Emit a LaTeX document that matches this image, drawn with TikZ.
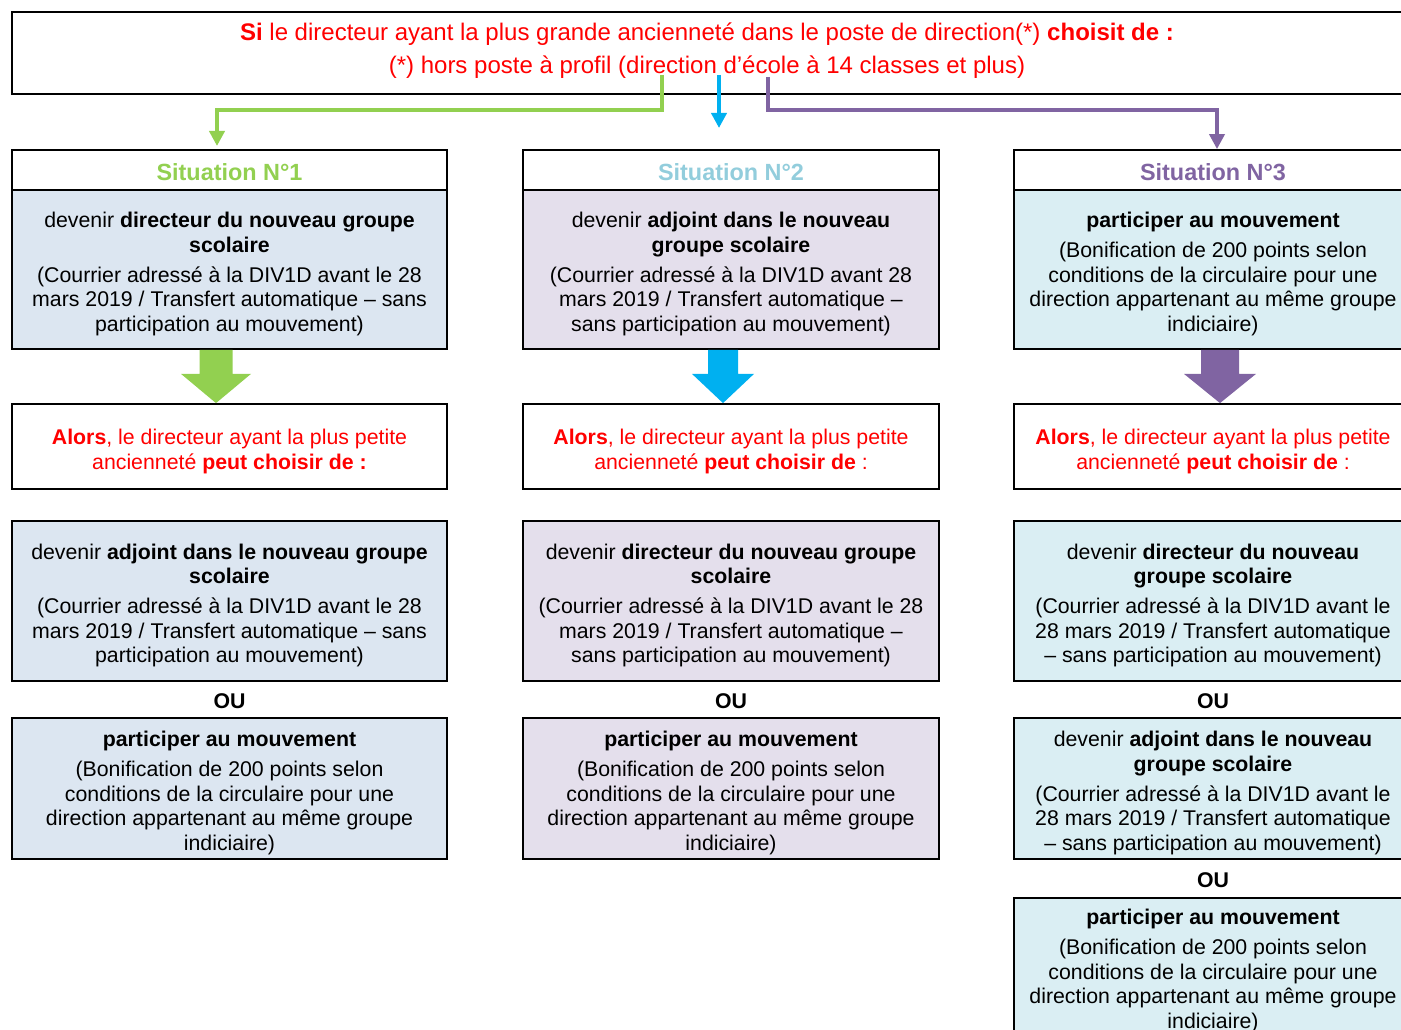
\documentclass[tikz,border=0pt]{standalone}
\usepackage{fontspec}
\setmainfont{Liberation Sans}
\usetikzlibrary{arrows.meta,calc}
\definecolor{cgreen}{HTML}{92D050}
\definecolor{cblue}{HTML}{00B0F0}
\definecolor{cpurple}{HTML}{8064A2}
\definecolor{clblue}{HTML}{92CDDC}
\definecolor{fillA}{HTML}{DCE6F1}
\definecolor{fillB}{HTML}{E4DFEC}
\definecolor{fillC}{HTML}{DAEEF3}
\definecolor{cred}{HTML}{FF0000}
\newcommand{\bodyfs}{\fontsize{21.3pt}{24.5pt}\selectfont}
\newcommand{\topfs}{\fontsize{24pt}{27.6pt}\selectfont}
\newcommand{\headfs}{\fontsize{23.4pt}{27pt}\selectfont\bfseries}
\newcommand{\gapline}{\\[5.5pt]}
\newcommand{\tstrut}{\rule{0pt}{24pt}}
\newcommand{\astrut}{\rule{0pt}{25.5pt}}
\newcommand{\hstrut}{\rule{0pt}{20.8pt}}
% color, from, to, xoffset, shaft half width, head half width
\newcommand{\bigarrow}[6]{%
  \fill[#1] ($(#2.south)+(#4-#5,0)$) -- ($(#2.south)+(#4+#5,0)$)
    -- ($(#2.south)+(#4+#5,24)$) -- ($(#2.south)+(#4+#6,24)$)
    -- ($(#3.north)+(#4,0)$)
    -- ($(#2.south)+(#4-#6,24)$) -- ($(#2.south)+(#4-#5,24)$) -- cycle;}
\begin{document}
\begin{tikzpicture}[x=1pt,y=-1pt,
  box/.style={draw=black, line width=1.8pt, inner sep=0pt, align=center, font=\bodyfs},
  head/.style={box, fill=white, minimum height=40pt, font=\headfs},
  body/.style={box, minimum height=159pt},
  alors/.style={box, fill=white, minimum height=85pt, text=cred},
  opta/.style={box, minimum height=160pt},
  optb/.style={box, minimum height=141pt},
  ou/.style={inner sep=0pt, font=\bodyfs\bfseries},
  conn/.style={line width=4.5pt, -{Triangle[length=15pt,width=15pt]}},
  wA/.style={minimum width=435pt},
  wB/.style={minimum width=416pt},
  wC/.style={minimum width=398pt}]
\useasboundingbox (0,0) rectangle (1401,1030);
\clip (0,0) rectangle (1401,1030);

% top box
\node[draw=black, line width=1.8pt, inner sep=0pt, minimum width=1391pt, minimum height=82pt] (top) at (707.5,53) {};
\node[inner sep=0pt, align=center, font=\topfs, text=cred] (toptxt) at (707,51)
  {\textbf{Si} le directeur ayant la plus grande ancienneté dans le poste de direction(*) \textbf{choisit de :}\\[5.4pt]
   (*) hors poste à profil (direction d’école à 14 classes et plus)};

% ---------- column 1 ----------
\node[head, wA, text=cgreen] (s1) at (229.5,170) {\hstrut Situation N°1};
\node[body, wA, fill=fillA] (b1) at (229.5,269.5)
  {\tstrut devenir \textbf{directeur du nouveau groupe}\\ \textbf{scolaire}\gapline
   (Courrier adressé à la DIV1D avant le 28\\ mars 2019 / Transfert automatique – sans\\ participation au mouvement)};
\node[alors, wA] (a1) at (229.5,446.5)
  {\astrut\textbf{Alors}, le directeur ayant la plus petite\\ ancienneté \textbf{peut choisir de :}};
\node[opta, wA, fill=fillA] (o11) at (229.5,601)
  {\tstrut devenir \textbf{adjoint dans le nouveau groupe}\\ \textbf{scolaire}\gapline
   (Courrier adressé à la DIV1D avant le 28\\ mars 2019 / Transfert automatique – sans\\ participation au mouvement)};
\node[ou] (ou1) at (229.5,701) {OU};
\node[optb, wA, fill=fillA] (o12) at (229.5,788.5)
  {\tstrut\textbf{participer au mouvement}\gapline
   (Bonification de 200 points selon\\ conditions de la circulaire pour une\\ direction appartenant au même groupe\\ indiciaire)};

% ---------- column 2 ----------
\node[head, wB, text=clblue] (s2) at (731,170) {\hstrut Situation N°2};
\node[body, wB, fill=fillB] (b2) at (731,269.5)
  {\tstrut devenir \textbf{adjoint dans le nouveau}\\ \textbf{groupe scolaire}\gapline
   (Courrier adressé à la DIV1D avant 28\\ mars 2019 / Transfert automatique –\\ sans participation au mouvement)};
\node[alors, wB] (a2) at (731,446.5)
  {\astrut\textbf{Alors}, le directeur ayant la plus petite\\ ancienneté \textbf{peut choisir de} :};
\node[opta, wB, fill=fillB] (o21) at (731,601)
  {\tstrut devenir \textbf{directeur du nouveau groupe}\\ \textbf{scolaire}\gapline
   (Courrier adressé à la DIV1D avant le 28\\ mars 2019 / Transfert automatique –\\ sans participation au mouvement)};
\node[ou] (ou2) at (731,701) {OU};
\node[optb, wB, fill=fillB] (o22) at (731,788.5)
  {\tstrut\textbf{participer au mouvement}\gapline
   (Bonification de 200 points selon\\ conditions de la circulaire pour une\\ direction appartenant au même groupe\\ indiciaire)};

% ---------- column 3 ----------
\node[head, wC, text=cpurple] (s3) at (1213,170) {\hstrut Situation N°3};
\node[body, wC, fill=fillC] (b3) at (1213,269.5)
  {\tstrut\textbf{participer au mouvement}\gapline
   (Bonification de 200 points selon\\ conditions de la circulaire pour une\\ direction appartenant au même groupe\\ indiciaire)};
\node[alors, wC] (a3) at (1213,446.5)
  {\astrut\textbf{Alors}, le directeur ayant la plus petite\\ ancienneté \textbf{peut choisir de} :};
\node[opta, wC, fill=fillC] (o31) at (1213,601)
  {\tstrut devenir \textbf{directeur du nouveau}\\ \textbf{groupe scolaire}\gapline
   (Courrier adressé à la DIV1D avant le\\ 28 mars 2019 / Transfert automatique\\ – sans participation au mouvement)};
\node[ou] (ou3) at (1213,701) {OU};
\node[optb, wC, fill=fillC] (o32) at (1213,788.5)
  {\tstrut devenir \textbf{adjoint dans le nouveau}\\ \textbf{groupe scolaire}\gapline
   (Courrier adressé à la DIV1D avant le\\ 28 mars 2019 / Transfert automatique\\ – sans participation au mouvement)};
\node[ou] (ou4) at (1213,880) {OU};
\node[box, minimum height=137pt, wC, fill=fillC] (o33) at (1213,966.5)
  {\tstrut\textbf{participer au mouvement}\gapline
   (Bonification de 200 points selon\\ conditions de la circulaire pour une\\ direction appartenant au même groupe\\ indiciaire)};

% ---------- big arrows ----------
\bigarrow{cgreen}{b1}{a1}{-13.5}{16.5}{35}
\bigarrow{cblue}{b2}{a2}{-8}{15}{31}
\bigarrow{cpurple}{b3}{a3}{7}{19}{36}

% ---------- thin connectors ----------
\coordinate (gs) at (662,75);
\coordinate (ge) at (217,146);
\coordinate (bs) at (719,75);
\coordinate (be) at (719,128);
\coordinate (ps) at (768,77);
\draw[conn, cgreen] (gs) -- (662,110) -- (217,110) -- (ge);
\draw[conn, cblue] (bs) -- (be);
\draw[conn, cpurple] (ps) -- (768,110) -- (1217,110) -- ([xshift=4pt]s3.north);
\end{tikzpicture}
\end{document}
